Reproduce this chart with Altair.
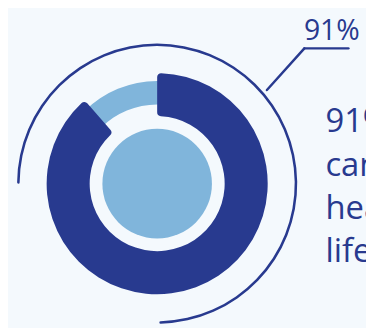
import math
import altair as alt
import pandas as pd

# ---- data ----
categories = ["Yes", "No"]
shares = [91, 9]
label_text = ["91%"]
body_lines = ["91% of", "cancers", "healthy", "lifestyle"]

NAVY = "#283a8f"
LIGHT = "#80b5db"
BG = "#f4f9fd"
FONT = "Open Sans"

W, H = 366, 320
CX, CY = 152.5, 176

df = pd.DataFrame({"cat": categories, "value": shares})
one = pd.DataFrame({"k": [0]})

center = dict(x=alt.value(CX), y=alt.value(CY))

outer_arc = alt.Chart(one).mark_arc(
    innerRadius=140.6, outerRadius=143.2, cornerRadius=1.3, color=NAVY,
    theta=1.5 * math.pi, theta2=2.995 * math.pi,
).encode(**center)

track = alt.Chart(one).mark_arc(
    innerRadius=81, outerRadius=105, color=LIGHT, theta=0, theta2=2 * math.pi,
).encode(**center)

donut = alt.Chart(df).transform_filter(alt.datum.cat == "Yes").mark_arc(
    innerRadius=69, outerRadius=113, cornerRadius=4,
).encode(
    theta=alt.Theta("value:Q", stack=True, scale=alt.Scale(domain=[0, 102.7])),
    color=alt.Color("cat:N", scale=alt.Scale(domain=categories, range=[NAVY, LIGHT]), legend=None),
    **center,
)

inner = alt.Chart(one).mark_arc(
    innerRadius=0, outerRadius=56, color=LIGHT, theta=0, theta2=2 * math.pi,
).encode(**center)

lead1 = alt.Chart(one).mark_rule(color=NAVY, strokeWidth=2.5, strokeCap="round").encode(
    x=alt.value(264.7), y=alt.value(80.3), x2=alt.value(303), y2=alt.value(37.7)
)
lead2 = alt.Chart(one).mark_rule(color=NAVY, strokeWidth=2.5, strokeCap="round").encode(
    x=alt.value(303), y=alt.value(37.7), x2=alt.value(348), y2=alt.value(37.7)
)

label = alt.Chart(pd.DataFrame({"t": label_text})).mark_text(
    font=FONT, fontSize=29, color=NAVY, align="left", baseline="alphabetic",
).encode(text="t:N", x=alt.value(302.5), y=alt.value(29.3))

body = alt.Chart(pd.DataFrame({"t": ["\n".join(body_lines)]})).mark_text(
    font=FONT, fontSize=33.5, color=NAVY, align="left", baseline="alphabetic",
    lineBreak="\n", lineHeight=44,
).encode(text="t:N", x=alt.value(324.5), y=alt.value(123.7))

chart = alt.layer(outer_arc, track, donut, inner, lead1, lead2, label, body).properties(
    width=W, height=H, padding=0, autosize=alt.AutoSizeParams(type="none"),
    background=BG,
).configure_view(stroke=None)

chart.save("out.html", embed_options={"renderer": "svg", "actions": False})
